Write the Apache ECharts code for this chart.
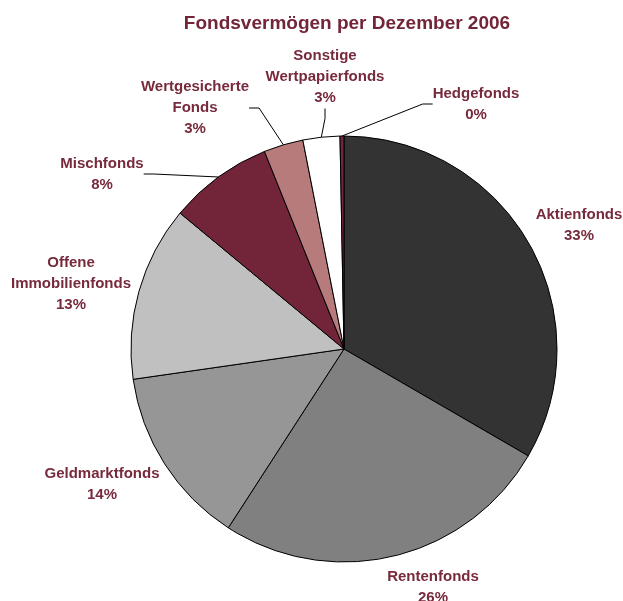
<!DOCTYPE html>
<html>
<head>
<meta charset="utf-8">
<script src="https://cdn.jsdelivr.net/npm/echarts@6/dist/echarts.min.js"></script>
<style>
html, body { margin: 0; padding: 0; background: #fff; }
#chart { width: 623px; height: 601px; }
</style>
</head>
<body>
<div id="chart"></div>
<script>
// Fondsvermögen Anteile in Prozent, im Uhrzeigersinn ab 12 Uhr
var fondsNamen = ['Aktienfonds', 'Rentenfonds', 'Geldmarktfonds', 'Offene\nImmobilienfonds',
    'Mischfonds', 'Wertgesicherte\nFonds', 'Sonstige\nWertpapierfonds', 'Hedgefonds'];
var fondsWerte = [33.4, 25.8, 13.6, 13.3, 7.9, 3.0, 2.8, 0.3];
var fondsFarben = ['#333333', '#808080', '#969696', '#c0c0c0', '#722538', '#b77b7b', '#ffffff', '#722538'];
var mitLinie = [false, false, false, false, true, true, true, true];

// Lage der Beschriftungen (Mitte des Textblocks)
var labelPos = [[579, 225], [433, 587], [102, 484], [71, 284], [102, 174], [195, 108], [325, 77], [476, 104]];

var myCharts = echarts.init(document.getElementById('chart'));
var dataList = [];
for (var i = 0; i < fondsNamen.length; i++) {
    dataList.push({
        name: fondsNamen[i],
        value: fondsWerte[i],
        itemStyle: { color: fondsFarben[i] },
        labelLine: { show: mitLinie[i] }
    });
}

var option = {
    title: {
        text: 'Fondsvermögen per Dezember 2006',
        left: 342,
        top: 9,
        textAlign: 'center',
        textStyle: {
            color: '#722538',
            fontFamily: 'Liberation Sans',
            fontSize: 19,
            fontWeight: 'bold'
        }
    },
    series: [{
        type: 'pie',
        center: [344, 349],
        radius: 213,
        startAngle: 90,
        clockwise: true,
        avoidLabelOverlap: false,
        animation: false,
        itemStyle: {
            borderColor: '#000',
            borderWidth: 1
        },
        label: {
            show: true,
            position: 'outside',
            align: 'center',
            color: '#772a3c',
            fontFamily: 'Liberation Sans',
            fontSize: 15,
            fontWeight: 'bold',
            lineHeight: 21,
            formatter: function (p) {
                return p.name + '\n' + Math.round(p.value) + '%';
            }
        },
        labelLine: {
            length: 10,
            length2: 10,
            lineStyle: { color: '#000', width: 1 }
        },
        labelLayout: function (params) {
            var pos = labelPos[params.dataIndex];
            return {
                x: pos[0],
                y: pos[1],
                align: 'center',
                verticalAlign: 'middle'
            };
        },
        data: dataList
    }]
};
myCharts.setOption(option);
</script>
</body>
</html>
